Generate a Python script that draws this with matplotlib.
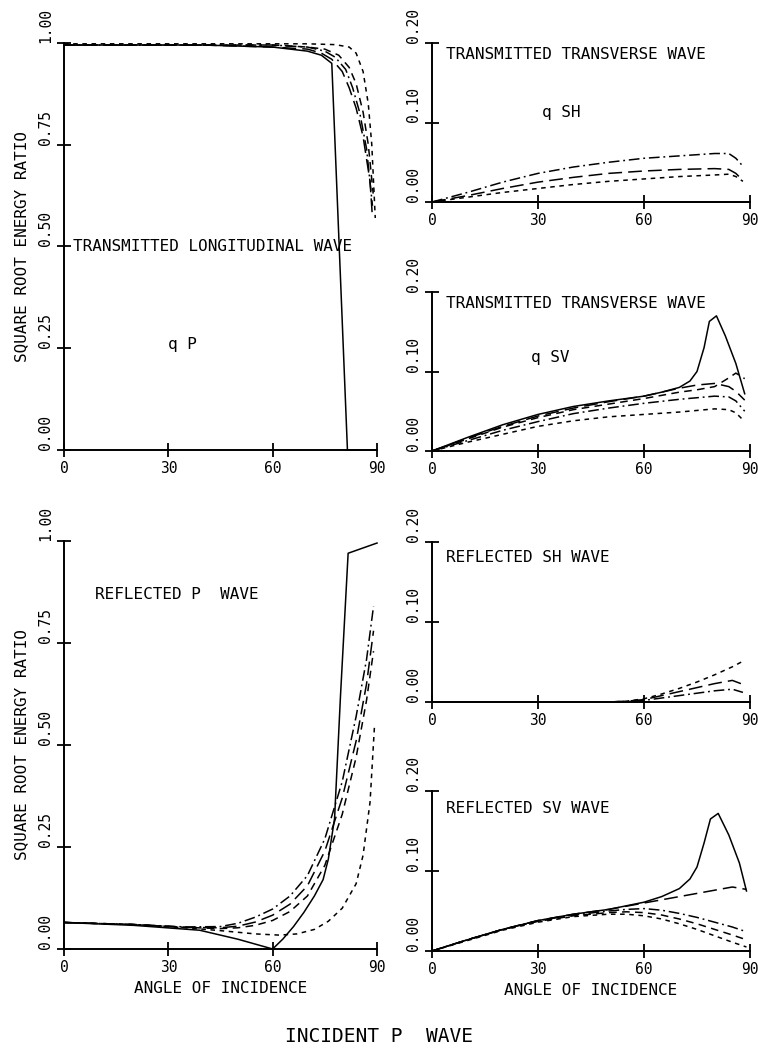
import numpy as np
import matplotlib
matplotlib.use("Agg")
import matplotlib.pyplot as plt

# ---- data (angle of incidence in degrees, square root energy ratio) ----
# transmitted longitudinal wave, qP
qp_solid_x = [0, 20, 40, 60, 70, 74, 77, 81.5, 90]
qp_solid_y = [0.995, 0.995, 0.995, 0.99, 0.98, 0.97, 0.95, 0.0, 0.0]
qp_long_x = [0, 40, 60, 70, 74, 77, 80, 82, 84, 86, 88, 88.7]
qp_long_y = [0.995, 0.995, 0.99, 0.985, 0.975, 0.96, 0.93, 0.89, 0.84, 0.77, 0.66, 0.57]
qp_dd_x = [0, 40, 60, 70, 75, 78, 81, 83, 85, 87, 88.7]
qp_dd_y = [0.995, 0.995, 0.995, 0.99, 0.98, 0.965, 0.935, 0.89, 0.83, 0.74, 0.60]
qp_med_x = [0, 40, 60, 70, 75, 79, 82, 84, 86, 87.5, 88.9]
qp_med_y = [0.995, 0.995, 0.995, 0.99, 0.985, 0.97, 0.94, 0.90, 0.83, 0.75, 0.63]
qp_short_x = [0, 40, 60, 70, 78, 82, 84, 86, 87.5, 88.5, 89.5]
qp_short_y = [0.998, 0.998, 0.998, 0.998, 0.996, 0.99, 0.975, 0.93, 0.85, 0.75, 0.57]

# transmitted transverse wave, qSH
qsh_x = [0, 10, 20, 30, 40, 50, 60, 70, 80, 84, 86, 88]
qsh_dd = [0, 0.012, 0.025, 0.036, 0.044, 0.05, 0.055, 0.058, 0.061, 0.061, 0.055, 0.045]
qsh_long = [0, 0.008, 0.017, 0.025, 0.031, 0.036, 0.039, 0.041, 0.042, 0.041, 0.036, 0.027]
qsh_short = [0, 0.006, 0.012, 0.017, 0.022, 0.026, 0.029, 0.032, 0.034, 0.035, 0.032, 0.026]
qsh_solid_x = [0, 90]
qsh_solid_y = [0, 0]

# transmitted transverse wave, qSV
qsv_solid_x = [0, 10, 20, 30, 40, 50, 60, 65, 70, 73, 75, 77, 78.5, 80.5, 83, 86, 88.5]
qsv_solid_y = [0, 0.017, 0.033, 0.046, 0.056, 0.063, 0.069, 0.074, 0.08, 0.088, 0.1, 0.13,
               0.163, 0.17, 0.145, 0.11, 0.072]
qsv_x = [0, 10, 20, 30, 40, 50, 60, 70, 75, 80, 84, 86, 88.5]
qsv_long = [0, 0.016, 0.031, 0.044, 0.054, 0.062, 0.069, 0.079, 0.083, 0.085, 0.081, 0.075, 0.064]
qsv_med = [0, 0.015, 0.03, 0.042, 0.052, 0.059, 0.066, 0.074, 0.077, 0.081, 0.092, 0.098, 0.091]
qsv_dd = [0, 0.013, 0.026, 0.037, 0.047, 0.054, 0.06, 0.065, 0.067, 0.069, 0.068, 0.063, 0.05]
qsv_short = [0, 0.011, 0.021, 0.031, 0.038, 0.043, 0.046, 0.049, 0.051, 0.053, 0.052, 0.048, 0.037]

# reflected P wave
rp_solid_x = [0, 20, 39, 50, 60, 63, 66, 69, 72, 74.5, 76, 77.8, 79.5, 81.7, 90]
rp_solid_y = [0.065, 0.058, 0.046, 0.024, 0.0, 0.025, 0.055, 0.09, 0.13, 0.17, 0.22, 0.32,
              0.62, 0.97, 0.995]
rp_x = [0, 20, 35, 45, 50, 55, 60, 65, 70, 75, 80, 84, 87, 89]
rp_dd = [0.065, 0.06, 0.054, 0.055, 0.063, 0.078, 0.098, 0.13, 0.18, 0.27, 0.41, 0.57, 0.71, 0.84]
rp_long = [0.065, 0.06, 0.053, 0.052, 0.056, 0.066, 0.083, 0.11, 0.155, 0.24, 0.37, 0.51, 0.65, 0.78]
rp_med = [0.065, 0.06, 0.053, 0.05, 0.052, 0.058, 0.07, 0.092, 0.13, 0.205, 0.33, 0.47, 0.61, 0.73]
rp_short_x = [0, 20, 35, 45, 55, 62, 67, 72, 76, 80, 84, 86, 88, 89.3]
rp_short_y = [0.065, 0.06, 0.052, 0.045, 0.037, 0.034, 0.037, 0.048, 0.068, 0.1, 0.16, 0.23, 0.36, 0.55]

# reflected SH wave
rsh_x = [0, 50, 55, 60, 65, 70, 75, 80, 85, 88]
rsh_short = [0, 0, 0.001, 0.004, 0.01, 0.017, 0.025, 0.034, 0.044, 0.051]
rsh_long = [0, 0, 0.001, 0.003, 0.008, 0.013, 0.018, 0.023, 0.027, 0.022]
rsh_dd = [0, 0, 0.0005, 0.002, 0.005, 0.008, 0.011, 0.014, 0.016, 0.012]
rsh_solid_x = [0, 90]
rsh_solid_y = [0, 0]

# reflected SV wave
rsv_solid_x = [0, 10, 20, 30, 40, 50, 60, 65, 70, 73, 75, 77, 78.8, 81, 84, 87, 89]
rsv_solid_y = [0, 0.014, 0.027, 0.038, 0.046, 0.052, 0.061, 0.068, 0.078, 0.09, 0.105, 0.135,
               0.165, 0.172, 0.145, 0.11, 0.075]
rsv_x = [0, 10, 20, 30, 40, 50, 55, 60, 65, 70, 75, 80, 85, 89]
rsv_long = [0, 0.014, 0.027, 0.038, 0.046, 0.052, 0.056, 0.06, 0.064, 0.068, 0.072, 0.076, 0.08, 0.077]
rsv_dd = [0, 0.014, 0.027, 0.038, 0.045, 0.05, 0.052, 0.053, 0.051, 0.047, 0.042, 0.036, 0.03, 0.024]
rsv_med = [0, 0.014, 0.027, 0.037, 0.044, 0.048, 0.049, 0.048, 0.045, 0.04, 0.034, 0.027, 0.02, 0.014]
rsv_short = [0, 0.013, 0.026, 0.036, 0.043, 0.046, 0.046, 0.044, 0.04, 0.034, 0.027, 0.019, 0.011, 0.005]

x_ticks = [0, 30, 60, 90]
big_yticks = [0, 0.25, 0.5, 0.75, 1.0]
small_yticks = [0, 0.1, 0.2]

# line styles
SOLID = "-"
LONG = (0, (9, 4))
MED = (0, (5, 3.5))
SHORT = (0, (3, 3))
DASHDOT = (0, (7, 2.5, 1.2, 2.5))

FONT = "DejaVu Sans Mono"
plt.rcParams["font.family"] = FONT

W, H = 758, 1052
fig = plt.figure(figsize=(W / 100, H / 100), dpi=100)


def px_axes(x0, x1, y_top, y_bot):
    return fig.add_axes([x0 / W, 1 - y_bot / H, (x1 - x0) / W, (y_bot - y_top) / H])


def style_axes(ax, ymax, yticks, fmt):
    ax.set_xlim(0, 90)
    ax.set_ylim(0, ymax)
    for s in ("top", "right"):
        ax.spines[s].set_visible(False)
    for s in ("left", "bottom"):
        ax.spines[s].set_linewidth(1.4)
    ax.set_xticks(x_ticks)
    ax.set_xticklabels([str(t) for t in x_ticks])
    ax.set_yticks(yticks)
    ax.set_yticklabels([fmt.format(t) for t in yticks])
    ax.tick_params(direction="inout", length=10, width=1.3, labelsize=10.5, pad=3)
    for lbl in ax.get_yticklabels():
        lbl.set_rotation(90)
        lbl.set_va("bottom")
        lbl.set_ha("right")
    ax.patch.set_alpha(0)


def draw(ax, curves):
    for xs, ys, ls in curves:
        ax.plot(xs, ys, color="black", linestyle=ls, linewidth=1.1, clip_on=False)


txt = dict(fontsize=11.5, color="black")

# top-left: transmitted longitudinal
ax1 = px_axes(64, 377, 43, 450)
style_axes(ax1, 1.0, big_yticks, "{:.2f}")
draw(ax1, [(qp_solid_x, qp_solid_y, SOLID), (qp_long_x, qp_long_y, LONG),
           (qp_dd_x, qp_dd_y, DASHDOT), (qp_med_x, qp_med_y, MED),
           (qp_short_x, qp_short_y, SHORT)])
ax1.text(2.5, 0.5, "TRANSMITTED LONGITUDINAL WAVE", va="center", ha="left", **txt)
ax1.text(30, 0.26, "q P", va="center", ha="left", **txt)
ax1.set_ylabel("SQUARE ROOT ENERGY RATIO", fontsize=11.5, labelpad=6)

# top-right: qSH
ax2 = px_axes(432, 750, 43, 202)
style_axes(ax2, 0.2, small_yticks, "{:.2f}")
draw(ax2, [(qsh_solid_x, qsh_solid_y, SOLID), (qsh_x, qsh_dd, DASHDOT),
           (qsh_x, qsh_long, LONG), (qsh_x, qsh_short, SHORT)])
ax2.text(4, 0.185, "TRANSMITTED TRANSVERSE WAVE", va="center", ha="left", **txt)
ax2.text(31, 0.112, "q SH", va="center", ha="left", **txt)

# mid-right: qSV
ax3 = px_axes(432, 750, 292, 451)
style_axes(ax3, 0.2, small_yticks, "{:.2f}")
draw(ax3, [(qsv_solid_x, qsv_solid_y, SOLID), (qsv_x, qsv_long, LONG),
           (qsv_x, qsv_med, MED), (qsv_x, qsv_dd, DASHDOT), (qsv_x, qsv_short, SHORT)])
ax3.text(4, 0.185, "TRANSMITTED TRANSVERSE WAVE", va="center", ha="left", **txt)
ax3.text(28, 0.117, "q SV", va="center", ha="left", **txt)

# bottom-left: reflected P
ax4 = px_axes(64, 377, 541, 949)
style_axes(ax4, 1.0, big_yticks, "{:.2f}")
draw(ax4, [(rp_solid_x, rp_solid_y, SOLID), (rp_x, rp_dd, DASHDOT), (rp_x, rp_long, LONG),
           (rp_x, rp_med, MED), (rp_short_x, rp_short_y, SHORT)])
ax4.text(9, 0.87, "REFLECTED P  WAVE", va="center", ha="left", **txt)
ax4.set_ylabel("SQUARE ROOT ENERGY RATIO", fontsize=11.5, labelpad=6)
ax4.set_xlabel("ANGLE OF INCIDENCE", fontsize=11.5, labelpad=4)

# right: reflected SH
ax5 = px_axes(432, 750, 542, 702)
style_axes(ax5, 0.2, small_yticks, "{:.2f}")
draw(ax5, [(rsh_solid_x, rsh_solid_y, SOLID), (rsh_x, rsh_short, SHORT),
           (rsh_x, rsh_long, LONG), (rsh_x, rsh_dd, DASHDOT)])
ax5.text(4, 0.18, "REFLECTED SH WAVE", va="center", ha="left", **txt)

# right: reflected SV
ax6 = px_axes(432, 750, 791, 951)
style_axes(ax6, 0.2, small_yticks, "{:.2f}")
draw(ax6, [(rsv_solid_x, rsv_solid_y, SOLID), (rsv_x, rsv_long, LONG),
           (rsv_x, rsv_dd, DASHDOT), (rsv_x, rsv_med, MED), (rsv_x, rsv_short, SHORT)])
ax6.text(4, 0.178, "REFLECTED SV WAVE", va="center", ha="left", **txt)
ax6.set_xlabel("ANGLE OF INCIDENCE", fontsize=11.5, labelpad=4)

fig.text(0.5, 1 - 1037 / H, "INCIDENT P  WAVE", ha="center", va="center", fontsize=14)

fig.savefig("out.png", dpi=100)
